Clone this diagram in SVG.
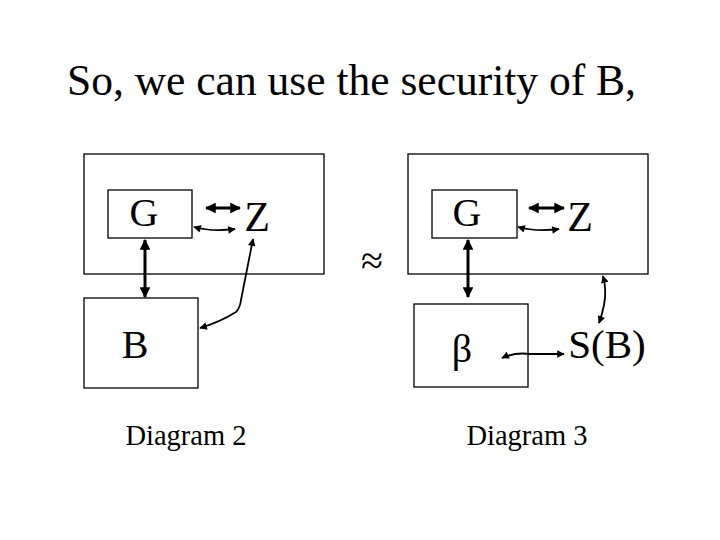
<svg xmlns="http://www.w3.org/2000/svg" width="720" height="540" viewBox="0 0 720 540">
<style>
.t{font-family:"Liberation Serif","Times New Roman",serif;fill:#000}
.box{fill:#fff;stroke:#000;stroke-width:1.3}
.thick{fill:none;stroke:#000;stroke-width:3}
.thin{fill:none;stroke:#000;stroke-width:1.8}
</style>
<defs>
<marker id="hb" viewBox="0 0 10 10" refX="9" refY="5" markerWidth="3.8" markerHeight="3.6" orient="auto-start-reverse" markerUnits="strokeWidth"><path d="M0,0L10,5L0,10z" fill="#000"/></marker>
<marker id="hs" viewBox="0 0 10 10" refX="9" refY="5" markerWidth="4.8" markerHeight="4.2" orient="auto-start-reverse" markerUnits="strokeWidth"><path d="M0,0L10,5L0,10z" fill="#000"/></marker>
</defs>
<rect width="720" height="540" fill="#fff"/>
<text class="t" x="67" y="95" font-size="43.5">So, we can use the security of B,</text>

<g id="d2-outer"><rect class="box" x="84" y="154" width="240" height="120"/></g>
<g id="d2-G"><rect class="box" x="108" y="190" width="84" height="48"/><text class="t" x="144" y="226" font-size="40" text-anchor="middle">G</text></g>
<g id="d2-Z"><text class="t" x="257" y="231" font-size="42" text-anchor="middle">Z</text></g>
<g id="d2-B"><rect class="box" x="84" y="298" width="114" height="90"/><text class="t" x="135" y="358" font-size="40" text-anchor="middle">B</text></g>
<g id="d2-caption"><text class="t" x="186" y="445" font-size="28.5" text-anchor="middle">Diagram 2</text></g>

<g id="approx"><text class="t" x="372" y="274" font-size="40" text-anchor="middle">≈</text></g>

<g id="d3-outer"><rect class="box" x="408" y="154" width="240" height="120"/></g>
<g id="d3-G"><rect class="box" x="432" y="190" width="85" height="48"/><text class="t" x="467" y="226" font-size="40" text-anchor="middle">G</text></g>
<g id="d3-Z"><text class="t" x="580" y="231" font-size="42" text-anchor="middle">Z</text></g>
<g id="d3-beta"><rect class="box" x="414" y="304" width="114" height="83"/><text class="t" x="462" y="362" font-size="40" text-anchor="middle">β</text></g>
<g id="d3-SB"><text class="t" x="607" y="358" font-size="41" text-anchor="middle">S(B)</text></g>
<g id="d3-caption"><text class="t" x="527" y="445" font-size="28.5" text-anchor="middle">Diagram 3</text></g>

<g id="connectors">
<line class="thick" x1="206" y1="208" x2="240" y2="208" marker-start="url(#hb)" marker-end="url(#hb)"/>
<path class="thin" d="M194,227 Q212,232 235,229" marker-start="url(#hs)" marker-end="url(#hs)"/>
<line class="thick" x1="145" y1="240" x2="145" y2="297" marker-start="url(#hb)" marker-end="url(#hb)"/>
<path class="thin" d="M253,239 L241,300 Q240,308 236,312 Q220,322 200,328" marker-start="url(#hs)" marker-end="url(#hs)"/>

<line class="thick" x1="529" y1="208" x2="564" y2="208" marker-start="url(#hb)" marker-end="url(#hb)"/>
<path class="thin" d="M518,227 Q536,232 559,229" marker-start="url(#hs)" marker-end="url(#hs)"/>
<line class="thick" x1="468" y1="240" x2="468" y2="297" marker-start="url(#hb)" marker-end="url(#hb)"/>
<path class="thin" d="M603,276 Q607,290 604,305 Q602,315 599,323" marker-start="url(#hs)" marker-end="url(#hs)"/>
<path class="thin" d="M502,358 Q515,352 530,354 L564,354" marker-start="url(#hs)" marker-end="url(#hs)"/>
</g>
</svg>
